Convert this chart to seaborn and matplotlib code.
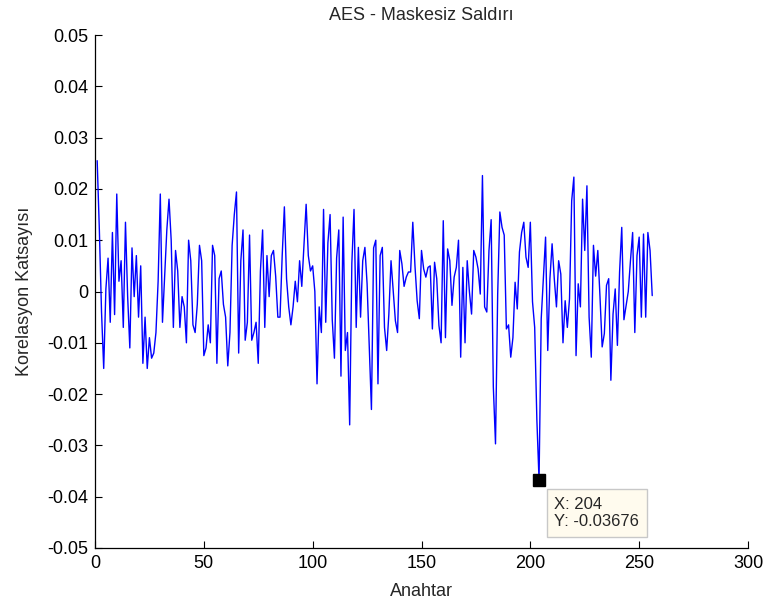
import numpy as np
import matplotlib
matplotlib.use("Agg")
import matplotlib.pyplot as plt
import seaborn as sns

# Correlation coefficient for each of the 256 key guesses (in units of 1e-3)
keys = np.arange(1, 257)
corr_milli = [
    25.5, 12, -4, -15, 0.5, 6.5, -6, 11.5, -4.5, 19,
    2, 6, -7, 13.5, -1, -11, 8.5, -1, 7, -5,
    5, -14, -5, -15, -9, -13, -12, -8, 2, 19,
    -6, 3, 12, 18, 10, -7, 8, 4, -7, -1,
    -3, -10, 10, 6, -6.5, -8, -2.5, 9, 6, -12.5,
    -11, -6.5, -10, 9, 7, -14, 2.5, 4, -2.5, -5,
    -14.5, -8, 9, 15, 19.4, -12, 6, 12, -9.5, -6,
    11, -9.5, -8, -6, -14, 4, 12, -7, 7, -1,
    7, 8, 3, -5, -5, 7, 16.5, 2.5, -3, -6.5,
    -3, 2, -2, 6, 1, 9, 17, 7, 4, 5,
    0, -18, -3, -8, 16, -6, 9.5, 15, -5.5, -13,
    6.5, 12, -16.5, 14.5, -11.5, -8, -26, 5.5, 16, -7,
    8.6, -5, 6, 8.6, 1.5, -11, -23, 8.5, 10, -18,
    7, 8.6, -7, -11.5, -4.4, 6, 0, -5.7, -8, 8,
    5.4, 1, 2.8, 3.8, 3.8, 13.5, 5, -1.8, -5.3, 8,
    4.4, 2.8, 4.7, 5, -7.3, 5.7, 2.5, -6.6, -10, 13.8,
    -9, 8.3, 6, -2.7, 2.8, 4.7, 10, -12.8, 4.7, -10,
    6, 0, -4.4, 8, 6.7, 4.4, -0.5, 22.6, -3, -4,
    8, 14, -18.6, -29.7, -0.5, 15.5, 12.5, 11, -7.3, -6.5,
    -12.8, -9, 1.8, -3.4, 7.7, 11.5, 13.5, 6.7, 4.7, 13.5,
    -2, -7, -25, -36.76, -5.3, 2.5, 10.6, -11.5, 2.5, 9.3,
    2.5, -3, 6, 3.4, -10, -1.8, -7, -1.4, 17.7, 22.3,
    -12.5, 1.5, -3, 18, 8, 20.6, -5, -12.8, 9, 3,
    8, -1, -10.8, -8.2, 1.2, 2.5, -17.3, -4.4, 0.5, -10.5,
    3.8, 12.5, -5.5, -2.7, 0, 6, 11.5, -8, 7, 10.6,
    -5, 11.2, -5, 11.5, 8, -0.8,
]
corr = np.array(corr_milli) / 1000.0

x_ticks = [0, 50, 100, 150, 200, 250, 300]
y_ticks = [-0.05, -0.04, -0.03, -0.02, -0.01, 0, 0.01, 0.02, 0.03, 0.04, 0.05]
y_tick_labels = ["-0.05", "-0.04", "-0.03", "-0.02", "-0.01", "0",
                 "0.01", "0.02", "0.03", "0.04", "0.05"]

# Key marked with a data cursor (the minimum of the curve)
tip_key = 204
tip_idx = int(np.where(keys == tip_key)[0][0])
tip_val = corr[tip_idx]

sns.set_style("ticks")
plt.rcParams["font.family"] = ["Liberation Sans", "DejaVu Sans"]

fig = plt.figure(figsize=(7.66, 6.05), dpi=100)
ax = fig.add_axes([95 / 766, 57 / 605, 653 / 766, 513 / 605])

sns.lineplot(x=keys, y=corr, color="#0000ff", linewidth=1.0, ax=ax)

ax.set_xlim(0, 300)
ax.set_ylim(-0.05, 0.05)
ax.set_xticks(x_ticks)
ax.set_xticklabels([str(t) for t in x_ticks])
ax.set_yticks(y_ticks)
ax.set_yticklabels(y_tick_labels)

for side in ("top", "right"):
    ax.spines[side].set_visible(False)
for side in ("left", "bottom"):
    ax.spines[side].set_linewidth(0.9)
    ax.spines[side].set_color("black")
ax.tick_params(direction="in", length=5, width=0.8, labelsize=13,
               colors="black", pad=5)

ax.set_title("AES - Maskesiz Saldırı", fontsize=13, pad=11)
ax.set_xlabel("Anahtar", fontsize=13, labelpad=8)
ax.set_ylabel("Korelasyon Katsayısı", fontsize=13, labelpad=10)

# Data cursor
ax.plot([keys[tip_idx]], [tip_val], marker="s", color="black",
        markersize=8.5, linestyle="none", zorder=5)
ax.annotate(f"X: {keys[tip_idx]}\nY: {tip_val:.5f}",
            xy=(keys[tip_idx], tip_val), xytext=(11, -12),
            textcoords="offset points", ha="left", va="top",
            fontsize=12, linespacing=1.2,
            bbox=dict(boxstyle="square,pad=0.45", fc="#fffbee",
                      ec="#c8c8c8", lw=1.0),
            zorder=6)

fig.savefig("out.png", dpi=100, facecolor="white")
